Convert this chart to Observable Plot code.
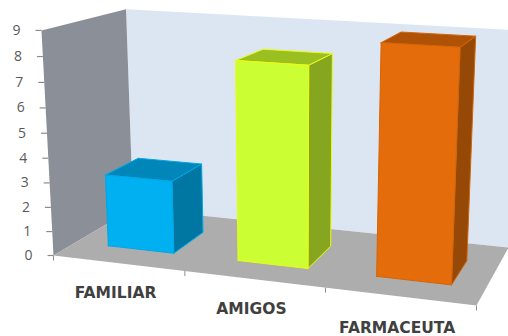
<!DOCTYPE html>
<html>
<head>
<meta charset="utf-8">
<script src="https://cdn.jsdelivr.net/npm/d3@7"></script>
<script src="https://cdn.jsdelivr.net/npm/@observablehq/plot@0.6"></script>
<style>
  html, body { margin: 0; padding: 0; background: #fff; overflow: hidden; }
  svg { display: block; }
</style>
</head>
<body>
<div id="chart"></div>
<script>
// Survey counts per category
const categories = ["FAMILIAR", "AMIGOS", "FARMACEUTA"];
const counts = [3, 8, 9];
const yTicks = [0, 1, 2, 3, 4, 5, 6, 7, 8, 9];
const yMax = 9;

// Face colours: front, side, top, edge
const barColors = [
  ["#00B0F0", "#0076A3", "#0086B8", "#00A8E6"],
  ["#CCFF33", "#86A61F", "#9ABF20", "#EEFA10"],
  ["#E46C0A", "#964807", "#B05205", "#D46508"]
];

// Perspective camera: maps (u across, t up, w deep) in the unit box to chart units
const camX = [375.9, -13.97, 97.4, 53];
const camY = [19.8, -226.5, -18.9, 255];
const camW = [-0.0989, -0.048, 0.1349, 1];
function project(u, v, w) {
  const t = v / yMax;
  const q = (c) => c[0] * u + c[1] * t + c[2] * w + c[3];
  const d = q(camW);
  return { x: q(camX) / d, y: q(camY) / d };
}

// A closed polygon from box corners given as [u, v, w]
let faceId = 0;
function polygon(corners, fill, stroke) {
  const id = faceId++;
  return [...corners, corners[0]].map(([u, v, w]) => ({ ...project(u, v, w), id, fill, stroke: stroke ?? fill }));
}

const depthFront = 0.26, depthBack = 0.68, halfBar = 0.0855, barShift = 0.005;
const slots = categories.map((_, i) => (i + 0.5) / categories.length);

const walls = [
  ...polygon([[0, yMax, 1], [1.02, yMax, 1], [1.02, 0, 1], [0, 0, 1]], "#DCE6F2"),
  ...polygon([[0, 0, 0], [0, yMax, 0], [0, yMax, 1], [0, 0, 1]], "#8A8F98"),
  ...polygon([[0, 0, 0], [1, 0, 0], [1, 0, 1], [0, 0, 1]], "#ADADAD")
];

const bars = counts.flatMap((value, i) => {
  const l = slots[i] + barShift - halfBar, r = slots[i] + barShift + halfBar;
  const [front, side, top, edge] = barColors[i];
  return [
    ...polygon([[r, 0, depthFront], [r, 0, depthBack], [r, value, depthBack], [r, value, depthFront]], side, edge),
    ...polygon([[l, value, depthFront], [r, value, depthFront], [r, value, depthBack], [l, value, depthBack]], top, edge),
    ...polygon([[l, 0, depthFront], [r, 0, depthFront], [r, value, depthFront], [l, value, depthFront]], front, edge)
  ];
});

// The last category label sits a little lower than the other two
const labelDrop = [29.5, 29.5, 32];

const yAxisRows = yTicks.map((v) => ({ v, ...project(0, v, 0) }));
const xTickRows = [0, 1 / 3, 2 / 3, 1].map((u) => project(u, 0, 0));
const xLabelRows = categories.map((name, i) => {
  const p = project(slots[i], 0, 0);
  return { name, x: p.x, y: p.y + labelDrop[i] };
});

const polyOptions = { x: "x", y: "y", z: "id", fill: "fill", stroke: "stroke", strokeWidth: 1, curve: "linear-closed" };

const chart = Plot.plot({
  width: 508,
  height: 336,
  margin: 0,
  style: { background: "#fff", fontFamily: "'Open Sans', sans-serif" },
  x: { domain: [0, 508], range: [0, 508], axis: null },
  y: { domain: [0, 336], range: [0, 336], axis: null },
  color: { type: "identity" },
  marks: [
    Plot.line(walls, { ...polyOptions, strokeWidth: 0 }),
    Plot.link(yAxisRows, { x1: "x", y1: "y", x2: (d) => d.x - 6, y2: "y", stroke: "#8C8C8C", strokeWidth: 1.2 }),
    Plot.link(xTickRows, { x1: "x", y1: "y", x2: "x", y2: (d) => d.y + 5, stroke: "#8C8C8C", strokeWidth: 1 }),
    Plot.line(bars, polyOptions),
    Plot.text(yAxisRows, { x: "x", y: "y", text: "v", dx: -25, fill: "#5A5A5A", fontSize: 14 }),
    Plot.text(xLabelRows, { x: "x", y: "y", text: "name", dx: -2.5, fill: "#404040", fontSize: 15.5, fontWeight: 700, fontFamily: "'DejaVu Sans'" })
  ]
});
document.getElementById("chart").appendChild(chart);
</script>
</body>
</html>
